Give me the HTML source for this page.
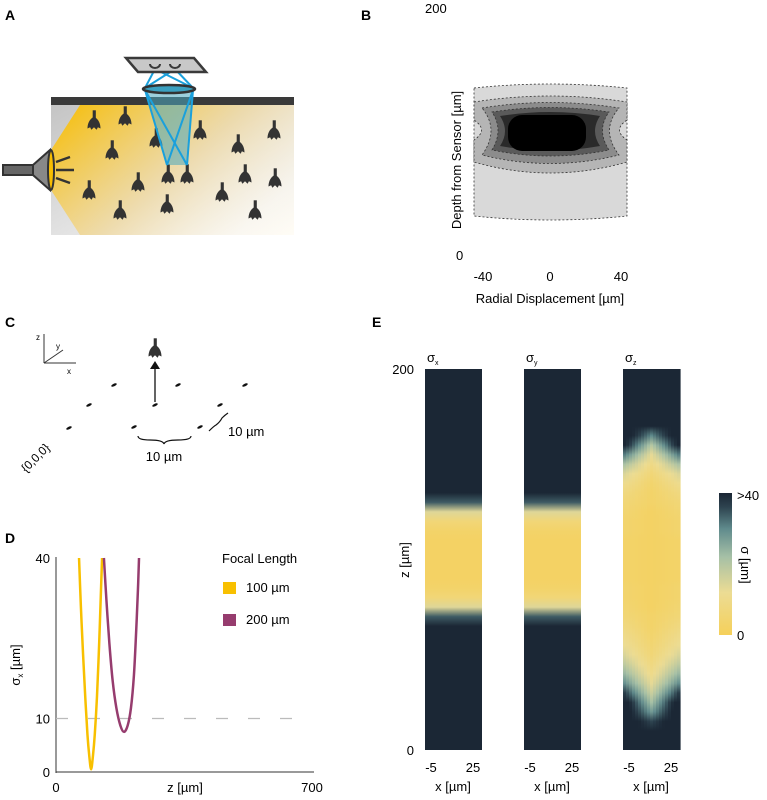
<!DOCTYPE html>
<html><head><meta charset="utf-8"><style>
body{margin:0;background:#fff;}
svg{display:block;font-family:"Liberation Sans",sans-serif;}
</style></head><body>
<svg id="fig" width="767" height="800" viewBox="0 0 767 800">
<defs>
<linearGradient id="bgA" x1="0" y1="0" x2="1" y2="1"><stop offset="0" stop-color="#c4c4c4"/><stop offset="1" stop-color="#ffffff"/></linearGradient>
<linearGradient id="orA" x1="0" y1="0" x2="1" y2="0.6"><stop offset="0" stop-color="#f8bd00"/><stop offset="0.6" stop-color="#f0d9a0" stop-opacity="0.8"/><stop offset="1" stop-color="#fff6e0" stop-opacity="0.3"/></linearGradient>
<linearGradient id="cbar" x1="0" y1="1" x2="0" y2="0"><stop offset="0" stop-color="#f5d05a"/><stop offset="0.3" stop-color="#ecdc94"/><stop offset="0.55" stop-color="#a6c0a6"/><stop offset="0.75" stop-color="#5f8a8c"/><stop offset="0.9" stop-color="#2e4450"/><stop offset="1" stop-color="#1a2634"/></linearGradient>
<g id="neuron"><rect x="-1" y="-9" width="2.4" height="6" fill="#333"/><path d="M0,-4 C-4,-2 -5,2 -5,5 L-3,4 L-2,6 L0,4 L2,6 L3,4 L5,5 C5,2 4,-2 0,-4Z" fill="#333"/></g>
</defs>

<text x="5" y="20" font-size="14" font-weight="bold">A</text>
<text x="361" y="20" font-size="14" font-weight="bold">B</text>
<text x="5" y="327" font-size="14" font-weight="bold">C</text>
<text x="5" y="543" font-size="14" font-weight="bold">D</text>
<text x="372" y="327" font-size="14" font-weight="bold">E</text>

<g>
<rect x="51" y="104" width="243" height="131" fill="url(#bgA)"/>
<polygon points="51,150 80,105 294,105 294,235 80,235 51,190" fill="url(#orA)"/>
<rect x="51" y="97" width="243" height="8" fill="#3a3a3a"/>
<g id="neurons"></g>
<polygon points="145,90 193,90 188,165 167,165" fill="#4aa8c0" fill-opacity="0.55"/>
<g stroke="#1aa0dc" stroke-width="2" fill="none">
<line x1="145" y1="90" x2="167" y2="165"/><line x1="193" y1="90" x2="167" y2="165"/>
<line x1="145" y1="90" x2="187" y2="165"/><line x1="193" y1="90" x2="187" y2="165"/>
<line x1="145" y1="88" x2="175" y2="69"/><line x1="193" y1="88" x2="155" y2="69"/>
<line x1="145" y1="88" x2="155" y2="69"/><line x1="193" y1="88" x2="175" y2="69"/>
</g>
<ellipse cx="169" cy="89" rx="26" ry="4" fill="#3aa0c0" stroke="#333" stroke-width="2.5"/>
<polygon points="126,58 194,58 206,72 138,72" fill="#c8c8c8" stroke="#3a3a3a" stroke-width="2.5"/>
<path d="M150,64 a5,4 0 0 0 10,0 M170,64 a5,4 0 0 0 10,0" stroke="#3a3a3a" stroke-width="2" fill="none"/>
<g>
<rect x="3" y="165" width="30" height="10" fill="#666" stroke="#333" stroke-width="2"/>
<polygon points="33,165 50,150 50,190 33,175" fill="#888" stroke="#333" stroke-width="2"/>
<ellipse cx="51" cy="170" rx="3" ry="20" fill="#f8bd00" stroke="#333" stroke-width="2"/>
<g stroke="#333" stroke-width="2.5"><line x1="56" y1="162" x2="70" y2="157"/><line x1="56" y1="170" x2="74" y2="170"/><line x1="56" y1="178" x2="70" y2="183"/></g>
</g>
</g>

<g>
<text x="425" y="13" font-size="13">200</text>
<text x="456" y="260" font-size="13">0</text>
<text transform="translate(461,160) rotate(-90)" text-anchor="middle" font-size="13">Depth from Sensor [µm]</text>
<path d="M474,88 Q550,80 627,88 L627,216 Q550,224 474,216Z" fill="#d9d9d9" stroke="#333" stroke-width="0.8" stroke-dasharray="2,2"/>
<path d="M474,102 Q550,90 627,102 L627,120 Q612,130 627,140 L627,162 Q550,184 474,162 L474,140 Q489,130 474,120Z" fill="#b5b5b5" stroke="#333" stroke-width="0.8" stroke-dasharray="2,2"/>
<path d="M482,108 Q550,97 619,108 Q600,130 619,155 Q550,172 482,155 Q500,130 482,108Z" fill="#8c8c8c" stroke="#333" stroke-width="0.8" stroke-dasharray="2,2"/>
<path d="M492,112 Q550,103 609,112 Q596,130 609,150 Q550,162 492,150 Q504,130 492,112Z" fill="#5a5a5a" stroke="#333" stroke-width="0.8" stroke-dasharray="2,2"/>
<path d="M500,116 Q550,108 600,116 Q590,131 600,146 Q550,155 500,146 Q510,131 500,116Z" fill="#2a2a2a"/>
<rect x="508" y="115" width="78" height="36" rx="14" fill="#000"/>
<text x="483" y="281" font-size="13" text-anchor="middle">-40</text>
<text x="550" y="281" font-size="13" text-anchor="middle">0</text>
<text x="621" y="281" font-size="13" text-anchor="middle">40</text>
<text x="550" y="303" font-size="13" text-anchor="middle">Radial Displacement [µm]</text>
</g>

<g>
<g stroke="#333" stroke-width="1"><line x1="44" y1="363" x2="44" y2="334"/><line x1="44" y1="363" x2="76" y2="363"/><line x1="44" y1="363" x2="63" y2="350"/></g>
<text x="36" y="340" font-size="8">z</text>
<text x="56" y="349" font-size="8">y</text>
<text x="67" y="374" font-size="8">x</text>
<g id="cdots" fill="#111"></g>
<line x1="155" y1="402" x2="155" y2="368" stroke="#111" stroke-width="1.3"/>
<polygon points="150,369 160,369 155,361" fill="#111"/>
<use href="#neuron" transform="translate(155,350) scale(1.3)"/>
<path d="M138,436 Q138,440 150,440 Q163,440 164,444 Q165,440 178,440 Q191,440 191,436" stroke="#111" fill="none" stroke-width="1.2"/>
<text x="164" y="461" font-size="13" text-anchor="middle">10 µm</text>
<path d="M209,431 Q214,426 216,425 Q220,422 222,418 Q225,415 228,413" stroke="#111" fill="none" stroke-width="1.2"/>
<text x="228" y="436" font-size="13">10 µm</text>
<text transform="translate(26,473) rotate(-45)" font-size="12">{0,0,0}</text>
</g>

<g id="panelD">
<line x1="56" y1="557" x2="56" y2="773" stroke="#333" stroke-width="1"/>
<line x1="56" y1="772" x2="314" y2="772" stroke="#333" stroke-width="1"/>
<g id="dTicks"></g>
<text transform="translate(20,665) rotate(-90)" text-anchor="middle" font-size="13">σ<tspan font-size="8" dy="3">x</tspan><tspan dy="-3"> [µm]</tspan></text>
<text x="185" y="792" text-anchor="middle" font-size="13">z [µm]</text>
<g id="dLines"></g>
<text x="222" y="563" font-size="13">Focal Length</text>
<rect x="223" y="582" width="13" height="12" fill="#f8c000"/>
<text x="246" y="592" font-size="13">100 µm</text>
<rect x="223" y="614" width="13" height="12" fill="#963c6e"/>
<text x="246" y="624" font-size="13">200 µm</text>
</g>

<g id="panelE">
<defs id="eDefs"></defs>
<g id="eCols"></g>
<text x="414" y="374" font-size="13" text-anchor="end">200</text>
<text x="414" y="755" font-size="13" text-anchor="end">0</text>
<text transform="translate(409,560) rotate(-90)" text-anchor="middle" font-size="13">z [µm]</text>
<rect x="719" y="493" width="13" height="142" fill="url(#cbar)"/>
<text x="737" y="500" font-size="13">&gt;40</text>
<text x="737" y="640" font-size="13">0</text>
<text transform="translate(741,565) rotate(90)" text-anchor="middle" font-size="13">σ [µm]</text>
</g>
</svg>
<script>
// ---- Panel D data ----
const dXTicks = [0, 700];
const dYTicks = [0, 10, 40];
const f100Z = [63, 68, 74, 80, 86, 91, 96, 101, 106, 112, 118, 123, 126];
const f100Sigma = [40, 31, 22, 14, 7, 3, 0.5, 3, 7, 14, 24, 34, 40];
const f200Z = [131, 138, 146, 155, 165, 176, 186, 196, 205, 213, 219, 224, 227];
const f200Sigma = [40, 32, 24, 17, 12, 8.7, 7.5, 8.7, 12, 18, 26, 34, 40];

// ---- Panel E data (sigma per 5 µm depth step, z = 0..200) ----
const eZ = [0,5,10,15,20,25,30,35,40,45,50,55,60,65,70,75,80,85,90,95,100,105,110,115,120,125,130,135,140,145,150,155,160,165,170,175,180,185,190,195,200];
const sigmaX = [45,45,45,45,45,45,45,45,45,45,45,45,45,45,34,14,6,3,2,2,2,2,2,3,6,14,34,45,45,45,45,45,45,45,45,45,45,45,45,45,45];
const sigmaY = [45,45,45,45,45,45,45,45,45,45,45,45,45,45,34,14,6,3,2,2,2,2,2,3,6,14,34,45,45,45,45,45,45,45,45,45,45,45,45,45,45];
const sigmaZCenter = [45,45,45,36,28,22,17,13,10,8,6,5,4,3,3,2,2,2,2,2,2,2,2,2,2,2,3,3,4,6,9,13,20,30,40,45,45,45,45,45,45];
const sigmaZEdge = [45,45,45,45,45,45,38,30,24,19,15,12,10,8,6,5,4,4,3,3,3,3,3,4,4,5,6,8,11,15,22,32,42,45,45,45,45,45,45,45,45];
const eXTicks = ["-5", "25"];

const NS = "http://www.w3.org/2000/svg";
function mk(tag, attrs, parent){ const e=document.createElementNS(NS,tag); for(const k in attrs) e.setAttribute(k,attrs[k]); parent.appendChild(e); return e; }

const dx = z => 56 + (z/700)*256;
const dy = s => 772 - (s/40)*214;
const dTicks = document.getElementById('dTicks');
dXTicks.forEach(v=>{ const t=mk('text',{x:dx(v),y:792,'font-size':13,'text-anchor':'middle'},dTicks); t.textContent=v;
  
   });
dYTicks.forEach(v=>{ const t=mk('text',{x:50,y:dy(v)+5,'font-size':13,'text-anchor':'end'},dTicks); t.textContent=v;
  
   });
const ref = mk('line',{x1:dx(0),x2:dx(700),y1:dy(10),y2:dy(10),stroke:'#bbb','stroke-width':1.2,'stroke-dasharray':'12,20'},dTicks);


const dLines = document.getElementById('dLines');
function line(zs, ss, color, name){
  const pts = zs.map((z,i)=>[dx(z),dy(ss[i])]);
  let d = 'M'+pts[0][0]+','+pts[0][1];
  for(let i=0;i<pts.length-1;i++){
    const p0=pts[Math.max(0,i-1)], p1=pts[i], p2=pts[i+1], p3=pts[Math.min(pts.length-1,i+2)];
    d += ` C${p1[0]+(p2[0]-p0[0])/6},${p1[1]+(p2[1]-p0[1])/6} ${p2[0]-(p3[0]-p1[0])/6},${p2[1]-(p3[1]-p1[1])/6} ${p2[0]},${p2[1]}`;
  }
  const p = mk('path',{d:d,fill:'none',stroke:color,'stroke-width':2.5},dLines);
  
  
}
line(f100Z, f100Sigma, '#f8c000', 'line-focal-100');
line(f200Z, f200Sigma, '#963c6e', 'line-focal-200');

const stops = [[0,[245,208,90]],[12,[236,220,148]],[22,[166,192,166]],[30,[95,138,140]],[36,[46,68,80]],[40,[27,39,53]]];
function cmap(s){ s=Math.max(0,Math.min(40,s)); for(let i=0;i<stops.length-1;i++){ const [a,ca]=stops[i],[b,cb]=stops[i+1]; if(s<=b){ const t=(s-a)/(b-a); return 'rgb('+ca.map((c,j)=>Math.round(c+(cb[j]-c)*t)).join(',')+')'; } } return 'rgb(27,39,53)'; }
const eDefs = document.getElementById('eDefs');
const eCols = document.getElementById('eCols');
const colX = [425, 524, 623], colW = 57;
const titles = ['x','y','z'];
function vertGrad(id, vals){
  const g = mk('linearGradient',{id:id,x1:0,y1:1,x2:0,y2:0},eDefs);
  eZ.forEach((z,i)=>mk('stop',{offset:z/200,'stop-color':cmap(vals[i])},g));
}
vertGrad('gx', sigmaX); vertGrad('gy', sigmaY);
[['gx',0,'heatmap-sigma-x'],['gy',1,'heatmap-sigma-y']].forEach(([id,c,n])=>{
  const r = mk('rect',{x:colX[c],y:369,width:colW,height:381,fill:'url(#'+id+')'},eCols);
  
  
});
// sigma-z: vertical strips, each blending center and edge profiles by distance from the centre
const gz = mk('g',{},eCols);


const nStrips = 19, sw = colW/nStrips;
for(let s=0;s<nStrips;s++){
  const w = Math.abs((s+0.5)/nStrips - 0.5)*2; // 0 center, 1 edge
  const vals = eZ.map((z,i)=>sigmaZCenter[i]*(1-w)+sigmaZEdge[i]*w);
  vertGrad('gzs'+s, vals);
  const r = mk('rect',{x:colX[2]+s*sw,y:369,width:sw+0.6,height:381,fill:'url(#gzs'+s+')'},gz);
  
  
}
colX.forEach((x,c)=>{
  const t = mk('text',{x:x+2,y:362,'font-size':13},eCols);
  t.innerHTML = 'σ<tspan font-size="7" dy="3">'+titles[c]+'</tspan>';
  
  
  eXTicks.forEach((lbl,k)=>{
    const tt = mk('text',{x:x+(k===0?6:48),y:772,'font-size':13,'text-anchor':'middle'},eCols); tt.textContent=lbl;
    
    
  });
  const xt = mk('text',{x:x+28,y:791,'font-size':13,'text-anchor':'middle'},eCols); xt.textContent='x [µm]';
  
  
});

const nPos = [[94,122],[125,118],[112,152],[156,140],[200,132],[238,146],[274,132],[89,192],[138,184],[120,212],[168,176],[187,176],[167,206],[222,194],[245,176],[275,180],[255,212]];
const ng = document.getElementById('neurons');
nPos.forEach(p=>{ const u=mk('use',{href:'#neuron',transform:`translate(${p[0]},${p[1]}) scale(1.3)`},ng);
  
   });

const cPts = [[114,385],[178,385],[245,385],[89,405],[155,405],[220,405],[69,428],[134,427],[200,427]];
const cd = document.getElementById('cdots');
cPts.forEach(p=>{ const e=mk('ellipse',{cx:p[0],cy:p[1],rx:3,ry:1.3,transform:`rotate(-25 ${p[0]} ${p[1]})`},cd);
  
   });
</script>
</body></html>
